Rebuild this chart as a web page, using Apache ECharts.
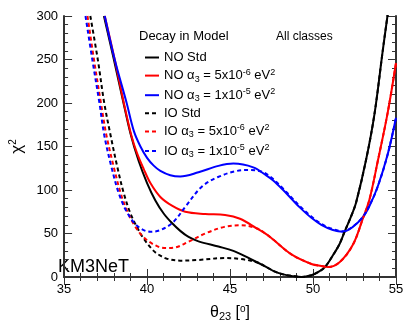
<!DOCTYPE html>
<html>
<head>
<meta charset="utf-8">
<script src="https://cdn.jsdelivr.net/npm/echarts@6/dist/echarts.min.js"></script>
<style>
  html, body { margin: 0; padding: 0; background: #fff; }
  #chart { width: 417px; height: 327px; }
</style>
</head>
<body>
<div id="chart"></div>
<script>
  // values: theta23 [deg] and chi2 for each model
  var thetaNoStd = [37.4, 38.0, 38.5, 39.0, 39.5, 40.0, 40.5, 41.0, 41.5, 42.0, 42.5, 43.1, 44.3, 45.2, 46.2, 47.2, 47.6, 48.2, 48.8, 49.3, 49.9, 50.3, 50.7, 51.2, 51.6, 51.9, 52.3, 52.6, 53.2, 53.7, 54.2, 54.5];
  var chi2NoStd = [300, 250, 207, 165, 133, 108, 88, 73, 62, 53, 46, 41, 35, 30, 21, 11.4, 7, 3, 1, 0, 2, 5.5, 11, 25, 38, 52, 70, 86, 135, 187, 260, 302];

  var thetaNoA5 = [37.45, 38.05, 38.6, 39.05, 39.4, 39.8, 40.2, 40.8, 41.5, 42.3, 43.5, 44.7, 45.6, 46.6, 47.2, 47.6, 48.7, 49.9, 50.5, 50.9, 51.6, 52.4, 53.0, 53.4, 53.9, 54.5, 55.0];
  var chi2NoA5 = [300, 250, 200, 163, 142, 124, 108, 92, 82, 75, 72.4, 71.3, 67, 56, 49, 43, 26, 15, 12.6, 11.5, 17, 37, 67, 89, 133, 189, 246];

  var thetaNoA10 = [37.45, 38.05, 38.77, 39.2, 39.6, 40.0, 40.4, 40.8, 41.4, 42.0, 43.1, 44.3, 45.2, 46.4, 47.2, 47.6, 48.2, 48.7, 49.2, 49.9, 50.5, 51.2, 51.8, 52.4, 53.0, 53.4, 53.9, 54.5, 55.0];
  var chi2NoA10 = [300, 250, 200, 168, 150, 137, 128, 122, 117, 115.6, 120.4, 127.7, 130.4, 126, 116.6, 111, 100, 90, 80, 68, 60, 54, 52, 57.6, 68.7, 81.6, 104, 141, 183];

  var thetaIoStd = [36.58, 37.03, 37.42, 37.8, 38.2, 38.6, 39.0, 39.4, 39.8, 40.4, 40.8, 41.2, 42.0, 43.1, 44.66, 45.63, 46.6, 47.2, 47.6, 48.2, 48.8, 49.3, 49.9, 50.3, 50.7, 51.2, 51.6, 51.9, 52.3, 52.6, 53.2, 53.7, 54.2, 54.5];
  var chi2IoStd = [300, 250, 200, 163, 127, 96, 73, 57, 44, 30, 24.5, 21, 18.8, 19.6, 21.8, 20.7, 17, 11.4, 7, 3, 1, 0, 2, 5.5, 11, 25, 38, 52, 70, 86, 135, 187, 260, 302];

  var thetaIoA5 = [36.41, 36.8, 37.22, 37.55, 38.0, 38.4, 38.8, 39.25, 39.83, 40.6, 41.2, 41.6, 42.54, 43.5, 44.66, 45.63, 46.6, 47.2, 47.6, 48.7, 49.9, 50.5, 50.9, 51.6, 52.4, 53.0, 53.4, 53.9, 54.5, 55.0];
  var chi2IoA5 = [300, 250, 200, 163, 126, 97, 76, 59, 45, 35.5, 33.3, 33.6, 41, 50, 57.6, 59.5, 56, 49, 43, 26, 15, 12.6, 11.5, 17, 37, 67, 89, 133, 189, 246];

  var thetaIoA10 = [36.29, 36.7, 37.13, 37.42, 37.86, 38.3, 38.8, 39.45, 40.2, 40.8, 41.57, 42.34, 43.3, 44.28, 45.43, 46.2, 47.0, 47.6, 48.2, 48.7, 49.2, 49.9, 50.5, 51.2, 51.8, 52.4, 53.0, 53.4, 53.9, 54.5, 55.0];
  var chi2IoA10 = [300, 250, 200, 163, 126, 96, 74, 58, 52, 54, 63, 81.6, 103.8, 114.9, 122, 123, 120.4, 112.5, 101.5, 91.5, 81.5, 69.5, 61, 55, 52.5, 58, 69, 82, 104, 141, 183];

  var seriesNames = ['NO Std', 'NO a5', 'NO a10', 'IO Std', 'IO a5', 'IO a10'];
  var legendLabels = {
    'NO Std': '{t|NO Std}',
    'NO a5': '{t|NO α}{sub|3}{t| = 5x10}{sup|-6}{t| eV}{sup|2}',
    'NO a10': '{t|NO α}{sub|3}{t| = 1x10}{sup|-5}{t| eV}{sup|2}',
    'IO Std': '{t|IO Std}',
    'IO a5': '{t|IO α}{sub|3}{t| = 5x10}{sup|-6}{t| eV}{sup|2}',
    'IO a10': '{t|IO α}{sub|3}{t| = 1x10}{sup|-5}{t| eV}{sup|2}'
  };

  var FONT = 'Liberation Sans';
  var AXIS_COLOR = '#333';

  function zip(xs, ys) {
    var out = [];
    for (var i = 0; i < xs.length; i++) out.push([xs[i], ys[i]]);
    return out;
  }

  function curve(name, xs, ys, color, dashed) {
    return {
      name: name,
      type: 'line',
      data: zip(xs, ys),
      symbol: 'none',
      smooth: 0.35,
      clip: true,
      lineStyle: { color: color, width: 2, type: dashed ? [4, 3] : 'solid' },
      itemStyle: { color: color }
    };
  }

  var tickStyle = { color: AXIS_COLOR, width: 1 };
  function frameAxis(pos, showLabel) {
    return {
      type: 'value',
      position: pos,
      axisLine: { show: true, lineStyle: { color: AXIS_COLOR, width: 2 } },
      axisTick: { show: true, inside: true, length: 8, lineStyle: tickStyle },
      minorTick: { show: true, splitNumber: 5, length: 4, lineStyle: tickStyle },
      splitLine: { show: false },
      axisLabel: { show: showLabel, fontFamily: FONT, fontSize: 13, color: '#000', margin: 6 }
    };
  }

  var xMain = frameAxis('bottom', true);
  xMain.min = 35; xMain.max = 55; xMain.interval = 5;
  xMain.name = '{c|θ}{s|23}{c| [}{o|o}{c|]}';
  xMain.nameLocation = 'middle';
  xMain.nameGap = 27;
  xMain.nameTextStyle = {
    rich: {
      c: { fontFamily: FONT, fontSize: 16, color: '#000', lineHeight: 18 },
      s: { fontFamily: FONT, fontSize: 11, color: '#000', lineHeight: 10, verticalAlign: 'bottom' },
      o: { fontFamily: FONT, fontSize: 10, color: '#000', lineHeight: 10, verticalAlign: 'top' }
    }
  };
  var xTop = frameAxis('top', false);
  xTop.min = 35; xTop.max = 55; xTop.interval = 5;

  var yMain = frameAxis('left', true);
  yMain.min = 0; yMain.max = 300; yMain.interval = 50;
  yMain.name = '{c|χ}{s|2}';
  yMain.nameLocation = 'middle';
  yMain.nameGap = 30;
  yMain.nameRotate = 90;
  yMain.nameTextStyle = {
    rich: {
      c: { fontFamily: FONT, fontSize: 17, color: '#000', lineHeight: 18 },
      s: { fontFamily: FONT, fontSize: 10, color: '#000', lineHeight: 10, verticalAlign: 'top' }
    }
  };
  var yRight = frameAxis('right', false);
  yRight.min = 0; yRight.max = 300; yRight.interval = 50;

  var chart = echarts.init(document.getElementById('chart'), null, { renderer: 'canvas' });
  chart.setOption({
    animation: false,
    backgroundColor: '#fff',
    grid: { left: 50, right: 21, top: 16, bottom: 40 },
    xAxis: [xMain, xTop],
    yAxis: [yMain, yRight],
    legend: {
      orient: 'vertical',
      left: 139,
      top: 46,
      itemWidth: 14,
      itemHeight: 12,
      itemGap: 3.6,
      data: seriesNames,
      itemStyle: { opacity: 0 },
      formatter: function (name) { return legendLabels[name]; },
      textStyle: {
        rich: {
          t: { fontFamily: FONT, fontSize: 13, color: '#000', lineHeight: 16 },
          sub: { fontFamily: FONT, fontSize: 9, color: '#000', lineHeight: 9, verticalAlign: 'bottom' },
          sup: { fontFamily: FONT, fontSize: 9, color: '#000', lineHeight: 9, verticalAlign: 'top' }
        }
      }
    },
    graphic: [
      { type: 'text', left: 139, top: 30, style: { text: 'Decay in Model', fontFamily: FONT, fontSize: 13, fill: '#000' } },
      { type: 'text', left: 276, top: 31, style: { text: 'All classes', fontFamily: FONT, fontSize: 12, fill: '#000' } },
      { type: 'text', left: 58, top: 258, style: { text: 'KM3NeT', fontFamily: FONT, fontSize: 18, fill: '#000' } }
    ],
    series: [
      curve('NO Std', thetaNoStd, chi2NoStd, '#000000', false),
      curve('NO a5', thetaNoA5, chi2NoA5, '#ff0000', false),
      curve('NO a10', thetaNoA10, chi2NoA10, '#0000ff', false),
      curve('IO Std', thetaIoStd, chi2IoStd, '#000000', true),
      curve('IO a5', thetaIoA5, chi2IoA5, '#ff0000', true),
      curve('IO a10', thetaIoA10, chi2IoA10, '#0000ff', true)
    ]
  });
</script>
</body>
</html>
